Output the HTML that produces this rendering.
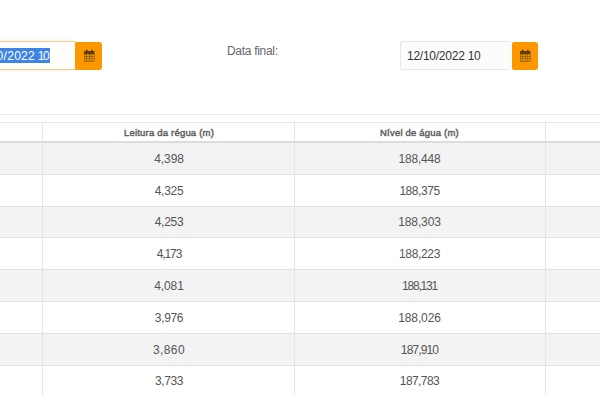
<!DOCTYPE html>
<html><head><meta charset="utf-8">
<style>
html,body{margin:0;padding:0;background:#fff;width:600px;height:417px;overflow:hidden;position:relative;font-family:"Liberation Sans",sans-serif;}
.a{position:absolute;}
.inp{position:absolute;box-sizing:border-box;height:29px;top:41px;border:1px solid #e3e3e3;border-radius:3px;background:#fcfcfc;}
.btn{position:absolute;top:42px;width:27px;height:27.5px;box-sizing:border-box;background:#fc9700;border-radius:3px;}
.btn svg{position:absolute;left:8.5px;top:7px;filter:blur(0.3px);}
.txt{position:absolute;font-size:12px;color:#333;white-space:nowrap;line-height:14px;}
.hl{position:absolute;left:0;width:600px;height:1px;background:#e2e2e2;}
.vl{position:absolute;top:122px;width:1px;height:273px;background:#e4e4e4;}
.row{position:absolute;left:0;width:600px;}
.g{background:#f3f3f3;}
.c{position:absolute;font-size:12px;color:#555;text-align:center;white-space:nowrap;line-height:14px;}
.h{position:absolute;font-size:9.5px;letter-spacing:0.2px;font-weight:normal;-webkit-text-stroke:0.45px #606060;color:#606060;text-align:center;white-space:nowrap;line-height:12px;}
</style></head><body>

<!-- input 1 -->
<div class="inp" style="left:-36px;width:111px;top:41px;height:29px;box-shadow:0 0 3px rgba(240,190,90,.35);border-color:#e5cf94;border-right:none;border-radius:0;background:#fffefa;"></div>
<div class="a" style="left:0;top:48px;width:50px;height:15px;background:#3d84e6;"></div>
<div class="txt" style="left:-28px;top:49px;color:#fff;letter-spacing:0.3px;">12/10/2022<span style="margin-left:-1px"> </span>1<span style="margin-left:-1.6px">0</span></div>
<div class="btn" style="left:75px;width:27.3px;border-radius:1px 3px 3px 1px;">
<svg width="11" height="13" viewBox="0 0 11 13"><rect x="0" y="1.9" width="10.5" height="10.6" rx="0.5" fill="#5f3d00"/><rect x="0.4" y="5.35" width="2.15" height="1.95" fill="#ec9800"/><rect x="2.95" y="5.35" width="2.15" height="1.95" fill="#ec9800"/><rect x="5.5" y="5.35" width="2.15" height="1.95" fill="#ec9800"/><rect x="8.05" y="5.35" width="2.05" height="1.95" fill="#ec9800"/><rect x="0.4" y="7.7" width="2.15" height="1.9" fill="#ec9800"/><rect x="2.95" y="7.7" width="2.15" height="1.9" fill="#ec9800"/><rect x="5.5" y="7.7" width="2.15" height="1.9" fill="#ec9800"/><rect x="8.05" y="7.7" width="2.05" height="1.9" fill="#ec9800"/><rect x="0.4" y="10.0" width="2.15" height="1.9" fill="#ec9800"/><rect x="2.95" y="10.0" width="2.15" height="1.9" fill="#ec9800"/><rect x="5.5" y="10.0" width="2.15" height="1.9" fill="#ec9800"/><rect x="8.05" y="10.0" width="2.05" height="1.9" fill="#ec9800"/><rect x="1.9" y="0.6" width="1.5" height="2.2" rx="0.6" fill="#5f3d00"/><rect x="7.1" y="0.6" width="1.5" height="2.2" rx="0.6" fill="#5f3d00"/></svg>
</div>

<div class="txt" style="left:227px;top:44px;color:#666;letter-spacing:-0.3px;">Data final:</div>

<!-- input 2 -->
<div class="inp" style="left:400px;width:110px;border-color:#e6e6e6;border-right-color:#f6f6f6;border-radius:3px 0 0 3px;"></div>
<div class="txt" style="left:407px;top:49px;color:#333;letter-spacing:-0.25px;">12/10/2022 10</div>
<div class="btn" style="left:511.5px;width:26.5px;border-radius:2px 3px 3px 2px;">
<svg width="11" height="13" viewBox="0 0 11 13"><rect x="0" y="1.9" width="10.5" height="10.6" rx="0.5" fill="#5f3d00"/><rect x="0.4" y="5.35" width="2.15" height="1.95" fill="#ec9800"/><rect x="2.95" y="5.35" width="2.15" height="1.95" fill="#ec9800"/><rect x="5.5" y="5.35" width="2.15" height="1.95" fill="#ec9800"/><rect x="8.05" y="5.35" width="2.05" height="1.95" fill="#ec9800"/><rect x="0.4" y="7.7" width="2.15" height="1.9" fill="#ec9800"/><rect x="2.95" y="7.7" width="2.15" height="1.9" fill="#ec9800"/><rect x="5.5" y="7.7" width="2.15" height="1.9" fill="#ec9800"/><rect x="8.05" y="7.7" width="2.05" height="1.9" fill="#ec9800"/><rect x="0.4" y="10.0" width="2.15" height="1.9" fill="#ec9800"/><rect x="2.95" y="10.0" width="2.15" height="1.9" fill="#ec9800"/><rect x="5.5" y="10.0" width="2.15" height="1.9" fill="#ec9800"/><rect x="8.05" y="10.0" width="2.05" height="1.9" fill="#ec9800"/><rect x="1.9" y="0.6" width="1.5" height="2.2" rx="0.6" fill="#5f3d00"/><rect x="7.1" y="0.6" width="1.5" height="2.2" rx="0.6" fill="#5f3d00"/></svg>
</div>

<!-- lines -->
<div class="hl" style="top:114px;background:#ebebeb;"></div>
<div class="hl" style="top:122px;background:#e8e8e8;"></div>

<!-- rows -->
<div class="row g" style="top:143px;height:31px;"></div>
<div class="row g" style="top:207px;height:30px;"></div>
<div class="row g" style="top:270px;height:31px;"></div>
<div class="row g" style="top:334px;height:31px;"></div>

<div class="hl" style="top:141px;height:2px;background:#dcdcdc;"></div>
<div class="hl" style="top:174px;"></div>
<div class="hl" style="top:206px;"></div>
<div class="hl" style="top:237px;"></div>
<div class="hl" style="top:269px;"></div>
<div class="hl" style="top:301px;"></div>
<div class="hl" style="top:333px;"></div>
<div class="hl" style="top:365px;"></div>

<div class="vl" style="left:42px;"></div>
<div class="vl" style="left:294px;"></div>
<div class="vl" style="left:545px;"></div>

<!-- header -->
<div class="h" style="left:44px;width:250px;top:127px;">Leitura da régua (m)</div>
<div class="h" style="left:294px;width:251px;top:127px;">Nível de água (m)</div>

<!-- data -->
<div class="c" style="left:44px;width:250px;top:152px;letter-spacing:-0.06px;">4,398</div>
<div class="c" style="left:294px;width:251px;top:152px;letter-spacing:-0.17px;">188,448</div>
<div class="c" style="left:44px;width:250px;top:184px;letter-spacing:-0.3px;">4,325</div>
<div class="c" style="left:294px;width:251px;top:184px;letter-spacing:-0.45px;">188,375</div>
<div class="c" style="left:44px;width:250px;top:215px;letter-spacing:-0.3px;">4,253</div>
<div class="c" style="left:294px;width:251px;top:215px;letter-spacing:-0.13px;">188,303</div>
<div class="c" style="left:44px;width:250px;top:247px;letter-spacing:-1.1px;">4,173</div>
<div class="c" style="left:294px;width:251px;top:247px;letter-spacing:-0.33px;">188,223</div>
<div class="c" style="left:44px;width:250px;top:279px;letter-spacing:-0.12px;">4,081</div>
<div class="c" style="left:294px;width:251px;top:279px;letter-spacing:-1.17px;">188,131</div>
<div class="c" style="left:44px;width:250px;top:311px;letter-spacing:-0.33px;">3,976</div>
<div class="c" style="left:294px;width:251px;top:311px;letter-spacing:-0.13px;">188,026</div>
<div class="c" style="left:44px;width:250px;top:343px;letter-spacing:0.4px;">3,860</div>
<div class="c" style="left:294px;width:251px;top:343px;letter-spacing:-0.87px;">187,910</div>
<div class="c" style="left:44px;width:250px;top:374px;letter-spacing:-0.37px;">3,733</div>
<div class="c" style="left:294px;width:251px;top:374px;letter-spacing:-0.58px;">187,783</div>

</body></html>
